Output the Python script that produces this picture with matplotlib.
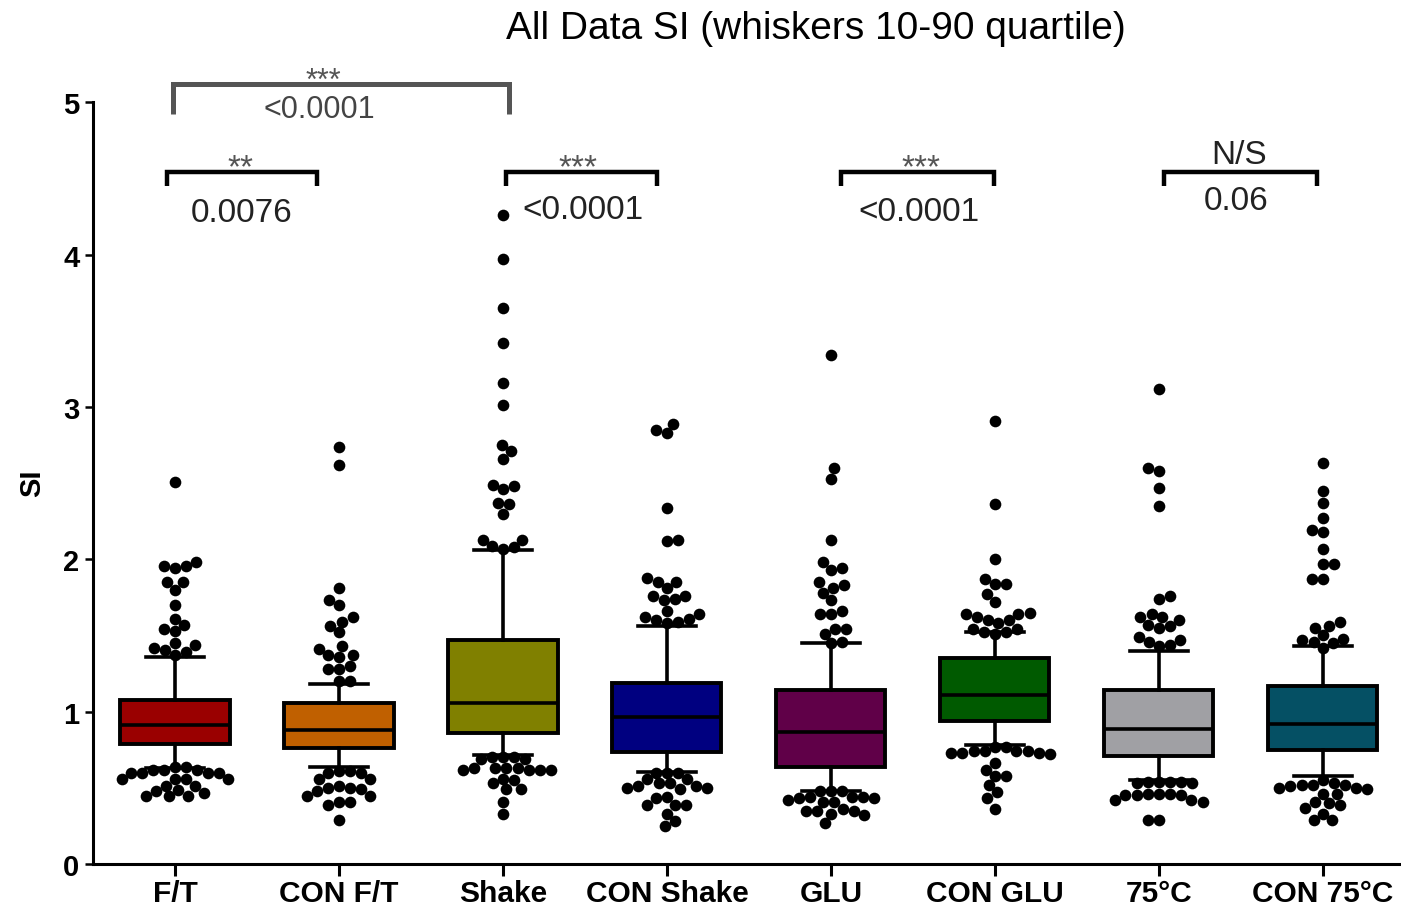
import numpy as np
import matplotlib
matplotlib.use("Agg")
import matplotlib.pyplot as plt

plt.rcParams['font.family'] = ['Liberation Sans', 'DejaVu Sans']

# ---------------- data ----------------
categories = ["F/T", "CON F/T", "Shake", "CON Shake", "GLU", "CON GLU", "75°C", "CON 75°C"]
p10 = [0.63, 0.635, 0.715, 0.605, 0.478, 0.78, 0.55, 0.58]
q1 = [0.79, 0.76, 0.857, 0.733, 0.635, 0.94, 0.707, 0.75]
med = [0.91, 0.88, 1.054, 0.968, 0.864, 1.11, 0.884, 0.92]
q3 = [1.075, 1.06, 1.47, 1.185, 1.145, 1.35, 1.14, 1.17]
p90 = [1.36, 1.18, 2.06, 1.565, 1.45, 1.52, 1.40, 1.43]
box_colors = ["#9A0000", "#C06000", "#808000", "#000080",
              "#600048", "#005A00", "#A0A0A4", "#055064"]

out_ft = [2.51, 1.98, 1.955, 1.94, 1.955, 1.85, 1.85, 1.80, 1.70, 1.61, 1.57, 1.53, 1.54,
          1.435, 1.45, 1.42, 1.405, 1.39, 1.37,
          0.635, 0.635, 0.615, 0.615, 0.615, 0.60, 0.60, 0.60, 0.60,
          0.555, 0.555, 0.555, 0.555, 0.51, 0.515, 0.48, 0.485, 0.465, 0.445, 0.445, 0.445]
out_con_ft = [2.74, 2.62, 1.81, 1.73, 1.70, 1.62, 1.59, 1.56, 1.52, 1.43, 1.41, 1.37, 1.37,
              1.36, 1.30, 1.28, 1.28, 1.20, 1.20,
              0.61, 0.61, 0.60, 0.60, 0.555, 0.555, 0.51, 0.50, 0.50, 0.49, 0.48,
              0.445, 0.445, 0.405, 0.39, 0.405, 0.29]
out_shake = [4.26, 3.97, 3.65, 3.42, 3.16, 3.01, 2.75, 2.71, 2.66, 2.49, 2.46, 2.48, 2.36,
             2.37, 2.30, 2.13, 2.13, 2.09, 2.08, 2.07,
             0.70, 0.69, 0.69, 0.70, 0.70, 0.63, 0.63, 0.62, 0.62, 0.62, 0.62, 0.63, 0.63,
             0.55, 0.56, 0.53, 0.49, 0.49, 0.41, 0.33]
out_con_shake = [2.89, 2.85, 2.83, 2.34, 2.13, 2.12, 1.88, 1.85, 1.85, 1.81, 1.76, 1.76,
                 1.74, 1.73, 1.66, 1.64, 1.62, 1.60, 1.59, 1.58, 1.61,
                 0.60, 0.60, 0.60, 0.556, 0.53, 0.51, 0.50, 0.49, 0.50, 0.51, 0.53, 0.556,
                 0.43, 0.44, 0.39, 0.39, 0.39, 0.33, 0.25, 0.28]
out_glu = [3.34, 2.60, 2.53, 2.13, 1.98, 1.93, 1.94, 1.85, 1.81, 1.83, 1.78, 1.73, 1.64,
           1.64, 1.66, 1.54, 1.54, 1.51, 1.46, 1.45,
           0.48, 0.48, 0.48, 0.44, 0.43, 0.42, 0.41, 0.44, 0.41, 0.43, 0.44,
           0.35, 0.33, 0.36, 0.32, 0.35, 0.35, 0.27]
out_con_glu = [2.91, 2.36, 2.00, 1.84, 1.84, 1.87, 1.77, 1.72, 1.60, 1.64, 1.62, 1.60, 1.64,
               1.65, 1.58, 1.54, 1.52, 1.52, 1.51, 1.54,
               0.77, 0.77, 0.74, 0.74, 0.73, 0.73, 0.72, 0.73, 0.74, 0.74,
               0.66, 0.62, 0.58, 0.58, 0.52, 0.47, 0.43, 0.36]
out_75c = [3.12, 2.60, 2.58, 2.47, 2.35, 1.74, 1.76, 1.64, 1.62, 1.57, 1.56, 1.55, 1.60,
           1.62, 1.47, 1.44, 1.43, 1.46, 1.49,
           0.54, 0.54, 0.54, 0.54, 0.53, 0.53,
           0.46, 0.46, 0.45, 0.42, 0.41, 0.42, 0.45, 0.45, 0.46, 0.29, 0.29]
out_con_75c = [2.63, 2.45, 2.37, 2.27, 2.18, 2.19, 2.07, 1.97, 1.97, 1.87, 1.87, 1.59, 1.55,
               1.56, 1.50, 1.48, 1.45, 1.42, 1.46, 1.47,
               0.55, 0.52, 0.52, 0.50, 0.49, 0.50, 0.51, 0.52, 0.53,
               0.46, 0.46, 0.41, 0.39, 0.40, 0.33, 0.37, 0.29, 0.29]
outliers = [out_ft, out_con_ft, out_shake, out_con_shake,
            out_glu, out_con_glu, out_75c, out_con_75c]

# significance annotations
bracket_x0 = [-0.012, -0.049, 2.02, 4.064, 6.03]
bracket_x1 = [2.038, 0.867, 2.94, 4.992, 6.963]
sig_labels = ["***", "**", "***", "***", "N/S"]
p_labels = ["<0.0001", "0.0076", "<0.0001", "<0.0001", "0.06"]

# ---------------- figure ----------------
W, H, DPI = 1401, 912, 100
fig = plt.figure(figsize=(W / DPI, H / DPI), dpi=DPI)
ax_left, ax_bottom = 93 / W, 1 - 865 / H
ax_w, ax_h = 1 - ax_left, (865 - 103.3) / H
ax = fig.add_axes([ax_left, ax_bottom, ax_w, ax_h])
xmin, xmax = -0.5, 7.476
ymin, ymax = 0, 5
ax.set_xlim(xmin, xmax)
ax.set_ylim(ymin, ymax)

px_x = ax_w * W / (xmax - xmin)
px_y = ax_h * H / (ymax - ymin)

stats = []
for i in range(len(categories)):
    stats.append(dict(med=med[i], q1=q1[i], q3=q3[i], whislo=p10[i], whishi=p90[i], fliers=[]))
bp = ax.bxp(stats, positions=range(len(categories)), widths=0.665, capwidths=0.35,
            patch_artist=True, showfliers=False,
            boxprops=dict(linewidth=2.8, edgecolor='black'),
            medianprops=dict(color='black', linewidth=2.6),
            whiskerprops=dict(color='black', linewidth=2.6),
            capprops=dict(color='black', linewidth=2.6))
for patch, c in zip(bp['boxes'], box_colors):
    patch.set_facecolor(c)

# ---------------- dot arrangement (beeswarm) ----------------
D = 12.7          # px spacing between dot centres
DMIN = 0.88 * D   # allowed minimal distance (slight overlap like the original)


def arrange(vals, center):
    vals = np.asarray(vals, float)
    ypx = vals * px_y
    offs = np.zeros(len(vals))
    hi = [i for i in np.argsort(vals, kind='stable') if vals[i] > center]
    lo = [i for i in np.argsort(-vals, kind='stable') if vals[i] <= center]
    for group in (hi, lo):
        placed = []
        last_sign = -1
        for i in group:
            y = ypx[i]
            cands = [0.0]
            for (px, py) in placed:
                dy = abs(py - y)
                if dy < DMIN:
                    dx = np.sqrt(DMIN ** 2 - dy ** 2) + 0.01
                    cands += [px + dx, px - dx]
            ok = []
            for c in cands:
                if all(np.hypot(c - px, y - py) >= DMIN - 0.02 for (px, py) in placed):
                    ok.append(c)
            # prefer smallest |x|, break ties by alternating sides
            ok.sort(key=lambda c: (round(abs(c), 1), 0 if np.sign(c) == -last_sign else 1))
            x = ok[0]
            if x != 0:
                last_sign = np.sign(x)
            offs[i] = x
            placed.append((x, y))
    return offs / px_x


for k, vals in enumerate(outliers):
    dx = arrange(vals, med[k])
    ax.scatter(k + dx, vals, s=8.4 ** 2, color='black', linewidths=0, zorder=6, clip_on=False)

# ---------------- axes styling ----------------
for s in ['top', 'right']:
    ax.spines[s].set_visible(False)
for s in ['left', 'bottom']:
    ax.spines[s].set_linewidth(2.2)
ax.set_xticks(range(len(categories)))
ax.set_xticklabels(categories, fontsize=21.5, fontweight='bold')
ax.set_yticks(range(6))
ax.set_yticklabels([str(v) for v in range(6)], fontsize=21, fontweight='bold')
ax.tick_params(axis='x', length=8.6, width=2.2, pad=2)
ax.tick_params(axis='y', length=5.8, width=1.8, pad=4)

fig.text(32 / W, 1 - 483 / H, "SI", rotation=90, ha='center', va='center',
         fontsize=21, fontweight='bold')
fig.text(816 / W, 1 - 39 / H, "All Data SI (whiskers 10-90 quartile)", ha='center',
         va='baseline', fontsize=28)

# ---------------- brackets ----------------
top_line, top_leg = 5.117, 4.925
sm_line, sm_leg = 4.544, 4.452
sig_x = [0.903, 0.397, 2.459, 4.547, 6.487]
p_x = [0.879, 0.409, 2.49, 4.534, 6.469]
p_y = [4.905, 4.222, 4.242, 4.229, 4.30]
for b in range(len(sig_labels)):
    if b == 0:
        yl, yg, col, lw = top_line, top_leg, '#555555', 3.6
    else:
        yl, yg, col, lw = sm_line, sm_leg, 'black', 3.2
    ax.plot([bracket_x0[b], bracket_x0[b], bracket_x1[b], bracket_x1[b]], [yg, yl, yl, yg],
            color=col, lw=lw, clip_on=False, solid_joinstyle='miter', solid_capstyle='butt')
    if sig_labels[b] == "N/S":
        ax.text(sig_x[b], 4.603, sig_labels[b], ha='center', va='baseline', fontsize=24,
                color='#222222', clip_on=False)
    else:
        ty = 5.24 if b == 0 else 4.675
        ax.text(sig_x[b], ty, sig_labels[b], ha='center', va='top',
                fontsize=22 if b == 0 else 24, color='#555555', clip_on=False)
    ax.text(p_x[b], p_y[b], p_labels[b], ha='center', va='baseline',
            fontsize=22 if b == 0 else 24, color='#444444' if b == 0 else '#222222',
            clip_on=False)

fig.savefig("out.png", dpi=DPI)
